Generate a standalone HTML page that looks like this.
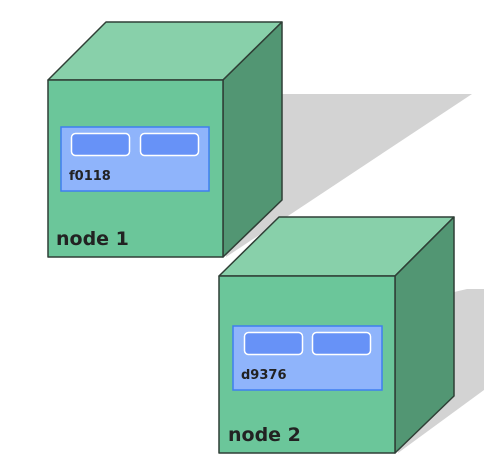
<!DOCTYPE html>
<html><head><meta charset="utf-8"><style>
html,body{margin:0;padding:0;background:#fff;width:484px;height:476px;overflow:hidden}
svg text{font-family:"DejaVu Sans","Liberation Sans",sans-serif;font-weight:bold;fill:#222}
</style></head><body>
<svg width="484" height="476" viewBox="0 0 484 476" xmlns="http://www.w3.org/2000/svg">
<polygon points="270,94 472,94 226,257 226,150" fill="#d3d3d3"/>
<polygon points="467,289 484,289 484,390 398,453 420,300" fill="#d3d3d3"/>
<g stroke="#2f3f36" stroke-width="1.5" stroke-linejoin="round">
<polygon points="48,80 106,22 282,22 223,80" fill="#88d0aa"/>
<polygon points="223,80 282,22 282,200 223,257" fill="#529673"/>
<rect x="48" y="80" width="175" height="177" fill="#6bc69a"/>
<polygon points="219,276 279,217 454,217 395,276" fill="#88d0aa"/>
<polygon points="395,276 454,217 454,396 395,453" fill="#529673"/>
<rect x="219" y="276" width="176" height="177" fill="#6bc69a"/>
</g>
<rect x="61" y="127" width="148" height="64" fill="#8fb4fb" stroke="#3f7ef0" stroke-width="1.5"/>
<rect x="71.5" y="133.5" width="58" height="22" rx="4" fill="#6792f7" stroke="#fff" stroke-width="1.5"/>
<rect x="140.5" y="133.5" width="58" height="22" rx="4" fill="#6792f7" stroke="#fff" stroke-width="1.5"/>
<text x="69" y="180" font-size="13">f0118</text>
<text x="56" y="245" font-size="19">node 1</text>
<rect x="233" y="326" width="149" height="64" fill="#8fb4fb" stroke="#3f7ef0" stroke-width="1.5"/>
<rect x="244.5" y="332.5" width="58" height="22" rx="4" fill="#6792f7" stroke="#fff" stroke-width="1.5"/>
<rect x="312.5" y="332.5" width="58" height="22" rx="4" fill="#6792f7" stroke="#fff" stroke-width="1.5"/>
<text x="241" y="379" font-size="13">d9376</text>
<text x="228" y="441" font-size="19">node 2</text>
</svg>
</body></html>
